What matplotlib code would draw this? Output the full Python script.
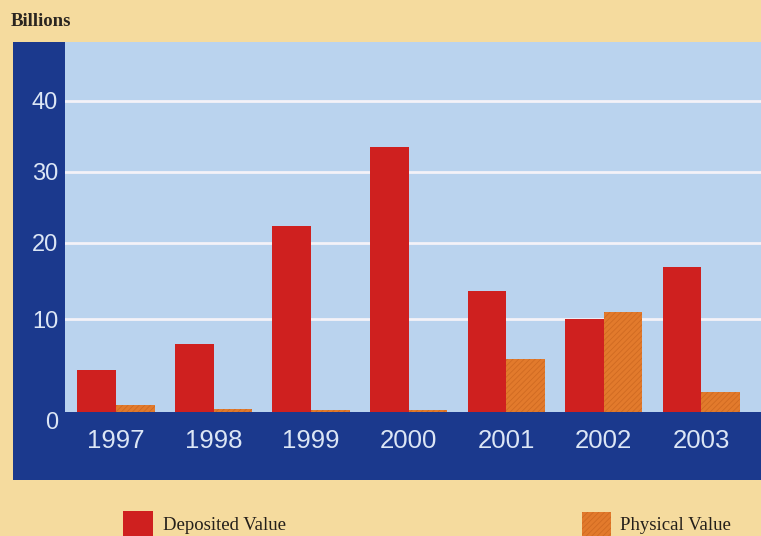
import numpy as np
import matplotlib
matplotlib.use('Agg')
import matplotlib.pyplot as plt
from matplotlib.patches import Rectangle

# ---- data (billions) ----
years = ['1997', '1998', '1999', '2000', '2001', '2002', '2003']
deposited = [4.5, 7.3, 22.3, 33.5, 13.7, 10.0, 16.8]
physical = [0.75, 0.3, 0.2, 0.2, 5.7, 10.95, 2.2]
yticks = [0, 10, 20, 30, 40]
series_names = ['Deposited Value', 'Physical Value']

# ---- colours ----
BG = '#F5DB9E'
NAVY = '#1B398D'
PLOT_BG = '#BAD3EE'
RED = '#CF201F'
ORANGE = '#E27A2C'
TICK_TXT = '#DCE6F5'

W, H = 761, 536
def fx(px):
    return px / W
def fy(py):
    return 1 - py / H

fig = plt.figure(figsize=(7.61, 5.36), dpi=100, facecolor=BG)

# navy frame
fig.add_artist(Rectangle((fx(13), fy(480)), fx(761) - fx(13), fy(42) - fy(480),
                         transform=fig.transFigure, facecolor=NAVY,
                         edgecolor='none', zorder=-1))

ax = fig.add_axes([fx(65), fy(412), fx(761) - fx(65), fy(42) - fy(412)])
ax.set_facecolor(PLOT_BG)

# the printed axis has uneven gridline spacing; reproduce it with a piecewise scale
_v = [-10, 0, 10, 20, 30, 40, 60]
_p = [-93, 0, 93, 169.5, 240.3, 311.3, 453.3]
ax.set_yscale('function', functions=(lambda v: np.interp(v, _v, _p),
                                     lambda p: np.interp(p, _p, _v)))

x = np.arange(len(years))
w = 0.395
ax.bar(x - w / 2, deposited, width=w, color=RED, zorder=3, linewidth=0)
plt.rcParams['hatch.linewidth'] = 0.6
ax.bar(x + w / 2, physical, width=w, color=ORANGE, zorder=3, linewidth=0,
       hatch='//////', edgecolor='#CF6A22')

ax.set_xlim(-0.523, 6.615)
ax.set_ylim(0, 48.27)

for t in yticks[1:]:
    ax.axhline(t, color='#F4F2F8', linewidth=2, zorder=2)

ax.set_yticks(yticks)
ax.set_yticklabels([str(t) for t in yticks], family='Liberation Sans',
                   fontsize=17, color=TICK_TXT)
ax.set_xticks(x)
ax.set_xticklabels(years, family='Liberation Sans', fontsize=18.5, color=TICK_TXT)
ax.tick_params(axis='both', length=0)
ax.tick_params(axis='y', pad=5)
ax.tick_params(axis='x', pad=12)
ax.get_yticklabels()[0].set_verticalalignment('top')
for s in ax.spines.values():
    s.set_visible(False)

# unit label
fig.text(fx(11), fy(22), 'Billions', family='Liberation Serif', fontsize=13.5,
         color='#2A2520', va='center', ha='left', weight='bold')

# legend
fig.add_artist(Rectangle((fx(123), fy(540)), fx(153) - fx(123), fy(511) - fy(540),
                         transform=fig.transFigure, facecolor=RED, edgecolor='none'))
fig.text(fx(163), fy(525), series_names[0], family='Liberation Serif', fontsize=13.5,
         color='#241F1A', va='center', ha='left')
fig.add_artist(Rectangle((fx(582), fy(540)), fx(611) - fx(582), fy(512) - fy(540),
                         transform=fig.transFigure, facecolor=ORANGE,
                         hatch='//////', edgecolor='#CF6A22', linewidth=0))
fig.text(fx(620), fy(525), series_names[1], family='Liberation Serif', fontsize=13.5,
         color='#241F1A', va='center', ha='left')

fig.savefig('out.png', dpi=100, facecolor=BG)
